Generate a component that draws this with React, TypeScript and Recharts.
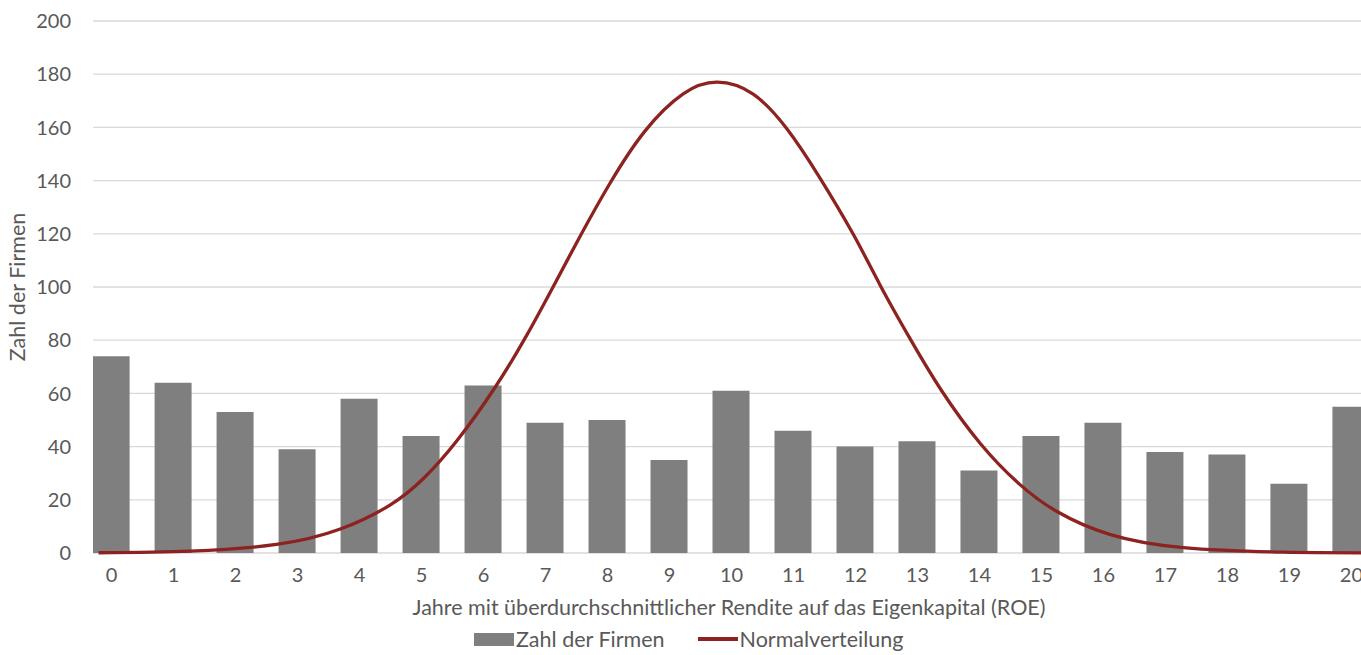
import React from 'react';
import { ComposedChart, Bar, Line, XAxis, YAxis, CartesianGrid, Legend } from 'recharts';

// Years with above-average ROE (0..20) and number of firms per year count
const years = [0, 1, 2, 3, 4, 5, 6, 7, 8, 9, 10, 11, 12, 13, 14, 15, 16, 17, 18, 19, 20];
const firms = [74, 64, 53, 39, 58, 44, 63, 49, 50, 35, 61, 46, 40, 42, 31, 44, 49, 38, 37, 26, 55];

// Fitted normal distribution curve, sampled along the year axis
const curveX = [-0.21, 1.27, 2.66, 3.69, 4.49, 5.03, 5.57, 6.19, 6.7, 7.13, 7.58, 8.04, 8.6, 9.22, 9.77, 10.35, 10.89, 11.4, 11.96, 12.4, 12.88, 13.39, 14.02, 14.65, 15.25, 16.1, 17.29, 18.9, 20.3];
const curveY = [0.1, 0.7, 3.2, 9, 18, 28, 42.2, 62.4, 82, 100.4, 120, 139, 158.5, 172.6, 177, 172.5, 159.6, 142, 120, 100.6, 80.6, 61, 41, 25.8, 15.6, 7, 2, 0.3, 0.05];

const yTicks = [0, 20, 40, 60, 80, 100, 120, 140, 160, 180, 200];

const barData = years.map((x, i) => ({ x, n: firms[i] }));
const curveData = curveX.map((x, i) => ({ x, v: curveY[i] }));

const FONT = 'Lato, "Open Sans", sans-serif';
const TEXT = '#595959';
const BAR = '#7f7f7f';
const CURVE = '#8c2320';
const DOMAIN: [number, number] = [-0.3, 20.3];

const YTitle = (props: any) => {
  const vb = props.viewBox || {};
  const cx = vb.x + 17;
  const cy = vb.y + vb.height / 2;
  return (
    <text x={cx} y={cy} transform={`rotate(-90 ${cx} ${cy})`} textAnchor="middle" dominantBaseline="central"
      fill={TEXT} fontSize={21.5} fontFamily={FONT}>Zahl der Firmen</text>
  );
};

const XTitle = (props: any) => {
  const vb = props.viewBox || {};
  return (
    <text x={729} y={vb.y + 54} textAnchor="middle" dominantBaseline="central"
      fill={TEXT} fontSize={21.5} fontFamily={FONT}>Jahre mit überdurchschnittlicher Rendite auf das Eigenkapital (ROE)</text>
  );
};

const LegendContent = () => (
  <div style={{ display: 'flex', alignItems: 'center', fontFamily: FONT, fontSize: 21.5, color: TEXT, whiteSpace: 'nowrap' }}>
    <span style={{ display: 'inline-block', width: 40, height: 13, background: BAR, marginRight: 2 }} />
    <span>Zahl der Firmen</span>
    <span style={{ display: 'inline-block', width: 40, height: 3.5, background: CURVE, marginLeft: 33, marginRight: 2 }} />
    <span>Normalverteilung</span>
  </div>
);

export default function App() {
  return (
    <div style={{ position: 'fixed', left: 0, top: 0, width: 1361, height: 655, overflow: 'hidden', background: '#fff' }}>
      <ComposedChart width={1380} height={655} data={barData} margin={{ top: 21, right: 10, left: 0, bottom: 62 }}>
        <CartesianGrid vertical={false} stroke="#d9d9d9" strokeWidth={1.3} />
        <XAxis xAxisId="bars" dataKey="x" type="number" domain={DOMAIN} allowDataOverflow ticks={years} interval={0}
          axisLine={false} tickLine={false} tickMargin={9} height={40}
          tick={{ fill: TEXT, fontSize: 20, fontFamily: FONT }}
          label={<XTitle />} />
        <XAxis xAxisId="curve" dataKey="x" type="number" domain={DOMAIN} allowDataOverflow hide />
        <YAxis domain={[0, 200]} ticks={yTicks} interval={0} width={93} axisLine={false} tickLine={false}
          tickMargin={16} tick={{ fill: TEXT, fontSize: 20, fontFamily: FONT }}
          label={<YTitle />} />
        <Legend verticalAlign="middle" layout="horizontal" content={<LegendContent />}
          wrapperStyle={{ position: 'absolute', left: 474, top: 626, width: 'auto' }} />
        <Bar xAxisId="bars" dataKey="n" name="Zahl der Firmen" fill={BAR} barSize={37} isAnimationActive={false} />
        <Line xAxisId="curve" data={curveData} dataKey="v" name="Normalverteilung" type="natural" dot={false} activeDot={false}
          stroke={CURVE} strokeWidth={3.3} isAnimationActive={false} />
      </ComposedChart>
    </div>
  );
}
